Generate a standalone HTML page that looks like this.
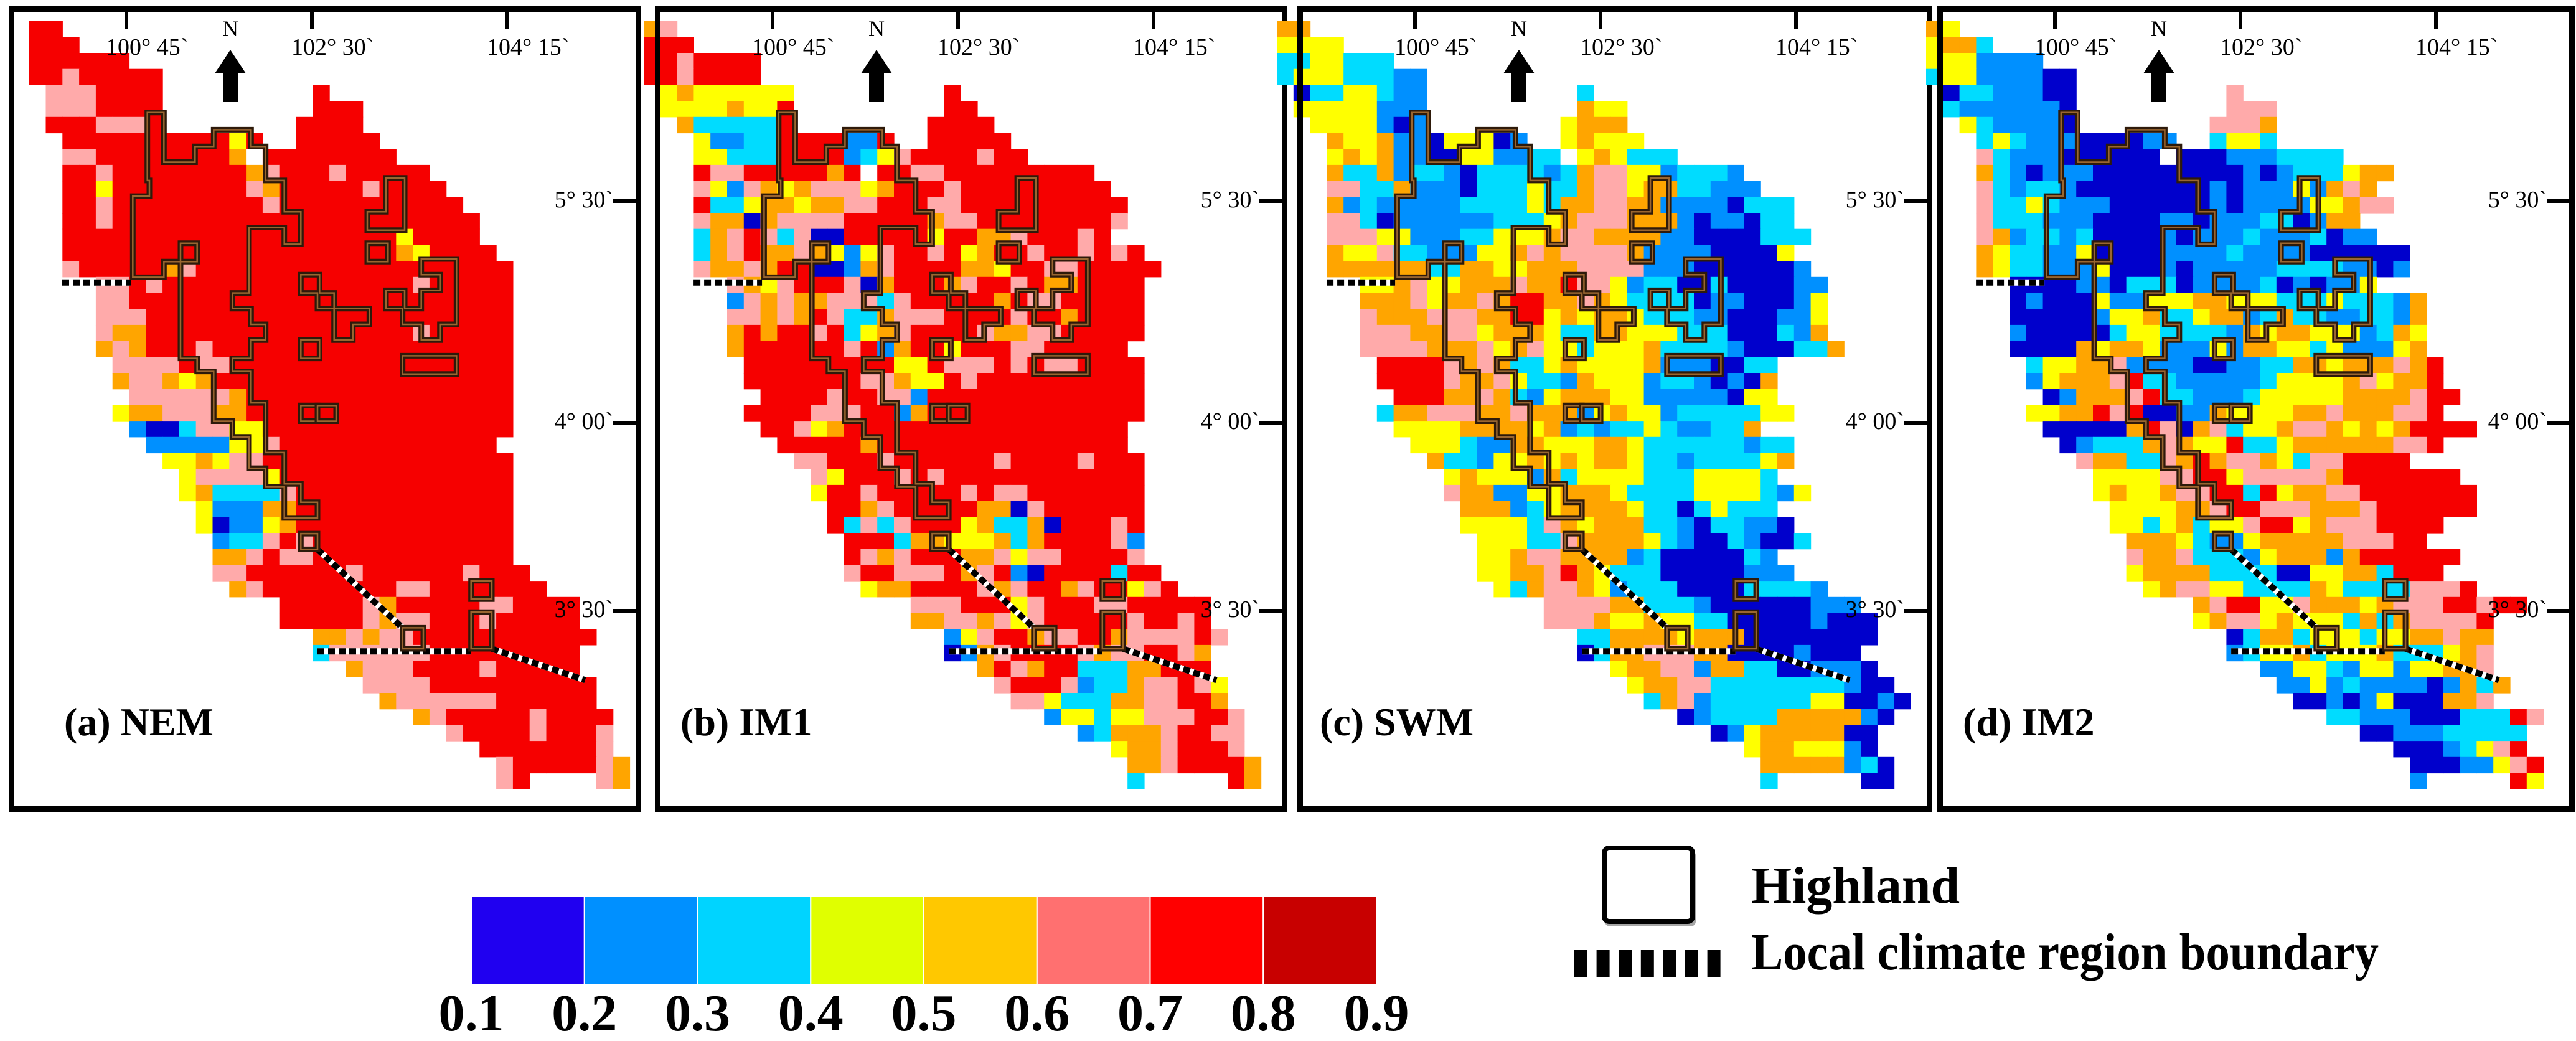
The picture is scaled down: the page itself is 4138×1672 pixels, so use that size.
<!DOCTYPE html>
<html>
<head>
<meta charset="utf-8">
<style>
  html,body{margin:0;padding:0;background:#fff;}
  svg{display:block;}
  svg text{font-family:"Liberation Serif","DejaVu Serif",serif;}
</style>
</head>
<body>
<svg id="fig" xmlns="http://www.w3.org/2000/svg" width="4138" height="1672" viewBox="0 0 4138 1672" font-family="'Liberation Serif', 'DejaVu Serif', serif">
  <rect x="0" y="0" width="4138" height="1672" fill="#fff"/>
</svg>
<script>
// ---------------- DATA ----------------
// Colour class per grid cell: 1=0.1-0.2 ... 8=0.8-0.9, w=no data (white), .=skip
const binLabels = ['0.1','0.2','0.3','0.4','0.5','0.6','0.7','0.8','0.9'];
const binColors = ['#2000f0','#0090ff','#00d4ff','#e0ff00','#ffc800','#ff7070','#ff0000','#c80000'];
const mapColors = {'1':'#0000cc','2':'#0090ff','3':'#00dcff','4':'#ffff00','5':'#ffa500','6':'#ffaaaa','7':'#f60000','8':'#d00000','w':'#ffffff'};
const panelNames = ['(a) NEM','(b) IM1','(c) SWM','(d) IM2'];
const lonTicks = ['100° 45`','102° 30`','104° 15`'];
const latTicks = ['5° 30`','4° 00`','3° 30`'];

// grid row mask: segments [startCol,endCol]
const rowMask = [
 [[0,2]],[[0,3]],[[0,6]],[[0,8]],[[1,8],[18,18]],[[1,8],[18,20]],[[2,8],[17,20]],[[3,14],[17,21]],
 [[3,22]],[[3,24]],[[3,25]],[[3,26]],[[3,27]],[[3,27]],[[3,28]],[[3,29]],
 [[5,29]],[[5,29]],[[5,29]],[[5,29]],[[5,29]],[[6,29]],[[6,29]],[[7,29]],
 [[6,29]],[[7,29]],[[8,28]],[[9,29]],[[10,29]],[[10,29]],[[11,29]],[[11,29]],
 [[12,29]],[[12,29]],[[12,30]],[[13,31]],[[16,33]],[[16,33]],[[18,34]],[[18,33]],
 [[20,33]],[[21,34]],[[22,34]],[[24,35]],[[26,35]],[[28,35]],[[29,36]],[[29,30],[35,36]]
];

const nemRows = [
 ".77",".777",".777777",".77677777",".66677777",".6667777777","7776667"+"7777","777777777747"+"77777",
 "66777777775w77777777","7767777777756777677777","77477777777657777767777","776777777777677777777777",
 "7767777777777777777777777","7777777777777777777747777","77777777777777777777547777","677777567777777777777777777",
 "6676777777777777777677777","6677777777777777777777777","6667777777777777777777777","6557777777777777777677777",
 "5657776777777777777777777","666676677777777777777777","566545777777777777777777","66666657777777777777777",
 "455666557777777777777777","21136644777777777777777","222224467777777777777","445466777777777777777",
 "46666477777777777777","45333367777777777777","4222557777777777777","4122457777777777777",
 "233676777777777777","556766777777777777","6677777767777776777","5677777777667777777",
 "777776577777667777","777776566777677777","55656677777777777","3666666777777777",
 "56667777677777","66667777777777","5666666777777","567777767777",
 "6777767776","77777776","67777765","6765"
];
const im1Rows = [
 "56.","777.","7767777","7767777..","45444444"+"7","4444544"+"777","5333337"+"7777","422337777227"+"77777",
 "44333777723467777677","7667777757w7766777777777","6426545666457776777777777","73345545566777667777777777",
 "65515666677777566777777776","3567636117777747755677767","356755654246776745776776767","6556577112567777554776677777",
 "6546777615777567767557777","2656556663677777576677777","6656576335666777767757777","5757767345677776556677777",
 "577777767257747776677777","777777777447666767667777","777777766544767777777777","77776776627777777777777",
 "777766677257777777777777","7764577777777777777777","777775777777777777777","667776777777677776777",
 "64777676777777777777","47767777767667777777","7756777775516777777","7363677745335177767",
 "777355444535777762","765677755646677776","6776667567217777377","4557777656775677467",
 "666777467776677777","556656467777767767","24677566775666676","1256777765667765",
 "57657733355777","67776233566764","6643335566775","244344666776",
 "2355567766","45567776","55677775","3.75"
];
const swmRows = [
 "55.","4444","3344333","344433322","13344322"+"3","44444222"+"544","4444212"+"4555","544522144412"+"45444",
 "45452211442233w454333","5335233213333235664423332","66335222133343356645533222","5232222233334355665522221333",
 "6631222222333456665552122133","66644222334445665555221111333","5446332224456566665222211114","55555533554455566662221111112",
 "4456445556557664233113111122","5556455657755654333312211124","6555666557745455433322111224","6665566455543355444333111325",
 "66665556456443444533332111335","777765653345444452221133","777765564332544423321215","77755653245554422222144",
 "3556665565552454423333344","4444555545232334322335","44432255444554333333233","5332445454554332333345",
 "45444253444433344443","6552244555433334444324","5552345555433134333","44443654555332133221",
 "44433655554321132113","445665555231111132","4455675433311111222","43566542333111133332",
 "6666553332111111222","66654454433111112111","335555455511111111","13556665511112111",
 "4556625533112221","4556633333333211","3562333333441121","1233335555521",
 "1245555511","45544421","55555231","3.11"
];
const im2Rows = [
 "54.","4553","4442222","344222211","13322211"+"6","32222221"+"666","4322221"+"6665","343222111122"+"3443",
 "63222111111w1112223333","5321222111111111212333455","632332111111112122242565","6334322211111121222244566",
 "63332221111221222331255","652332311112122232223122","54332241111222232222111111","54332224111212222233332212",
 "1111221333122223121224","1211142244455444333433325","1111124453345523533223325","2111113443333254554442354",
 "1111545542224255443422245","3445562222112233554555657","2455567332222234444564557","1255567332223444445555677",
 "4455767112254444556555667","11111576156344566545457777","12333565447334555555667","65533657566543667777",
 "4444667746666657777777","45445667737455667777777","4444556776665556777777","44345344677456667777",
 "555432245555566677","65563332455525777777","4555533331144553777","45664433335433336667",
 "56774465554566677677","456645444353566667","1355344434455655","2344534445333456",
 "22443244244556","22423222212535","112124111556","3322211133376",
 "1122233333","11123467","11122467","2.74"
];
const panelRows = [nemRows, im1Rows, swmRows, im2Rows];

// ---------------- LAYOUT ----------------
const NS = 'http://www.w3.org/2000/svg';
const FONT = "'Liberation Serif', 'DejaVu Serif', serif";
const svg = document.getElementById('fig');
const frames = [[14,1030],[1052,2068],[2084,3104],[3112,4136]];
const mapLeft = [13,1048,2085,3114];
const gridOff = [6.9,-14,-34,-20];
const labelX = [89,41,36,41];
const CW = 26.8, CH = 25.7, Y0 = 33.6;
const FT = 10, FB = 1304;

function el(tag, attrs, parent){
  const e = document.createElementNS(NS, tag);
  for (const k in attrs) e.setAttribute(k, attrs[k]);
  if (tag === 'text') e.setAttribute('font-family', FONT);
  (parent||svg).appendChild(e);
  return e;
}
function xCell(p, col){ return mapLeft[p] + gridOff[p] + col*CW; }
function yCell(row){ return Y0 + row*CH; }

// Highland outlines & boundaries (traced in panel-(a) zoom coordinates)
const highlandShapes = [
 [[355,215],[395,215],[395,310],[470,310],[470,280],[515,280],[515,248],[605,248],[605,280],[640,280],[640,345],[685,345],[685,405],[725,405],[725,467],[685,467],[685,435],[600,435],[600,560],[560,560],[560,590],[605,590],[605,620],[640,620],[640,650],[605,650],[605,685],[560,685],[560,710],[605,710],[605,770],[640,770],[640,865],[685,865],[685,925],[725,925],[725,960],[765,960],[765,990],[685,990],[685,930],[640,930],[640,895],[600,895],[600,835],[560,835],[560,805],[515,805],[515,710],[475,710],[475,685],[435,685],[435,465],[475,465],[475,500],[395,500],[395,530],[320,530],[320,375],[360,375],[360,345],[355,345]],
 [[930,340],[975,340],[975,440],[885,440],[885,405],[930,405]],
 [[885,465],[935,465],[935,500],[885,500]],
 [[725,525],[770,525],[770,560],[805,560],[805,590],[890,590],[890,620],[850,620],[850,650],[805,650],[805,590],[765,590],[765,560],[725,560]],
 [[1015,495],[1100,495],[1100,620],[1060,620],[1060,650],[1015,650],[1015,620],[970,620],[970,590],[930,590],[930,555],[975,555],[975,590],[1015,590],[1015,555],[1060,555],[1060,525],[1015,525]],
 [[725,650],[770,650],[770,685],[725,685]],
 [[970,680],[1100,680],[1100,715],[970,715]],
 [[725,775],[765,775],[765,805],[725,805]],
 [[765,775],[810,775],[810,805],[765,805]],
 [[725,1020],[765,1020],[765,1050],[725,1050]],
 [[970,1200],[1020,1200],[1020,1240],[970,1240]],
 [[1135,1110],[1185,1110],[1185,1145],[1135,1145]],
 [[1135,1170],[1185,1170],[1185,1240],[1135,1240]]
];
const boundaryLines = [
 [[150,540],[315,540]],
 [[765,1050],[970,1200]],
 [[765,1245],[1135,1245]],
 [[1185,1240],[1410,1300]]
];

for (let p = 0; p < 4; p++) {
  const g = el('g', {});
  
  
  const cg = el('g', {}, g);
  
  
  const rows = panelRows[p];
  for (let r = 0; r < rowMask.length && r < rows.length; r++) {
    const segs = rowMask[r]; const s = rows[r];
    let si = 0, col = segs[0][0];
    for (let k = 0; k < s.length; k++) {
      if (si < segs.length - 1 && col > segs[si][1]) { si++; col = segs[si][0]; }
      const ch = s[k];
      if (ch !== '.' && mapColors[ch]) {
        const rc = el('rect', {x:xCell(p,col).toFixed(1), y:yCell(r).toFixed(1), width:CW+0.6, height:CH+0.6, fill:mapColors[ch]}, cg);
        
        
      }
      col++;
    }
  }
  const shift = mapLeft[p] + gridOff[p] - 6.9 - 13;
  const tx = zx => (zx/1.5 + shift).toFixed(1);
  const ty = zy => (zy/1.19).toFixed(1);
  boundaryLines.forEach(l => {
    const pts = l.map(q => tx(q[0])+','+ty(q[1])).join(' ');
    el('polyline', {points:pts, fill:'none', stroke:'#fff', 'stroke-width':10}, g);
    const bl = el('polyline', {points:pts, fill:'none', stroke:'#000', 'stroke-width':10, 'stroke-dasharray':'11 6'}, g);
    
    
  });
  highlandShapes.forEach(h => {
    const pts = h.map(q => tx(q[0])+','+ty(q[1])).join(' ');
    const o = el('polygon', {points:pts, fill:'none', stroke:'#2e1a0a', 'stroke-width':9, 'stroke-linejoin':'miter'}, g);
    
    
    el('polygon', {points:pts, fill:'none', stroke:'#9a6630', 'stroke-width':2.5}, g);
  });
  const [fl, fr] = frames[p];
  const fr_ = el('rect', {x:fl+4.5, y:FT+4.5, width:fr-fl-9, height:FB-FT-9, fill:'none', stroke:'#000', 'stroke-width':9}, g);
  
  
  const lonX = [189, 487, 801];
  lonTicks.forEach((t, i) => {
    const x = fl + lonX[i];
    el('line', {x1:x, y1:FT+9, x2:x, y2:46, stroke:'#000', 'stroke-width':6}, g);
    const tt = el('text', {x:x-33, y:88, 'font-size':38, fill:'#000'}, g);
    tt.textContent = t;
    
    
  });
  const latY = [323, 679, 981];
  latTicks.forEach((t, i) => {
    const y = latY[i];
    el('line', {x1:fr-45, y1:y, x2:fr-9, y2:y, stroke:'#000', 'stroke-width':6}, g);
    const tt = el('text', {x:fr-45, y:y+10, 'font-size':38, 'text-anchor':'end', fill:'#000'}, g);
    tt.textContent = t;
    
    
  });
  const nx = fl + 356;
  const ng = el('g', {}, g);
  
  
  const nt = el('text', {x:nx, y:58, 'font-size':36, 'text-anchor':'middle'}, ng);
  nt.textContent = 'N';
  el('polygon', {points:`${nx},80 ${nx+25},118 ${nx+12},118 ${nx+12},164 ${nx-12},164 ${nx-12},118 ${nx-25},118`, fill:'#000'}, ng);
  const pl = el('text', {x:fl+labelX[p], y:1181, 'font-size':64, 'font-weight':'bold'}, g);
  pl.textContent = panelNames[p];
  
  
}

// ---------------- COLOR LEGEND ----------------
const lg = el('g', {});


const LX0 = 757, LX1 = 2211, LY0 = 1440, LY1 = 1582;
const bw = (LX1 - LX0) / binColors.length;
binColors.forEach((c, i) => {
  const r = el('rect', {x:(LX0+i*bw).toFixed(1), y:LY0, width:bw.toFixed(1), height:LY1-LY0, fill:c, stroke:'#fff', 'stroke-width':2}, lg);
  
  
});
binLabels.forEach((t, i) => {
  const tt = el('text', {x:(LX0+i*bw).toFixed(1), y:1655, 'font-size':84, 'font-weight':'bold', 'text-anchor':'middle'}, lg);
  tt.textContent = t;
  
  
});

// ---------------- SYMBOL LEGEND ----------------
const sg = el('g', {});


el('rect', {x:2578, y:1366, width:146, height:122, rx:8, fill:'#000', opacity:0.35}, sg);
const hb = el('rect', {x:2577, y:1362, width:142, height:118, rx:8, fill:'#fff', stroke:'#000', 'stroke-width':8}, sg);


const ht = el('text', {x:2813, y:1450, 'font-size':84, 'font-weight':'bold', textLength:335, lengthAdjust:'spacingAndGlyphs'}, sg);
ht.textContent = 'Highland';


for (let i = 0; i < 7; i++) {
  el('rect', {x:(2529 + i*35.6).toFixed(1), y:1526, width:21, height:44, fill:'#000'}, sg);
}
const bt = el('text', {x:2813, y:1557, 'font-size':84, 'font-weight':'bold', textLength:1008, lengthAdjust:'spacingAndGlyphs'}, sg);
bt.textContent = 'Local climate region boundary';


</script>
</body>
</html>
